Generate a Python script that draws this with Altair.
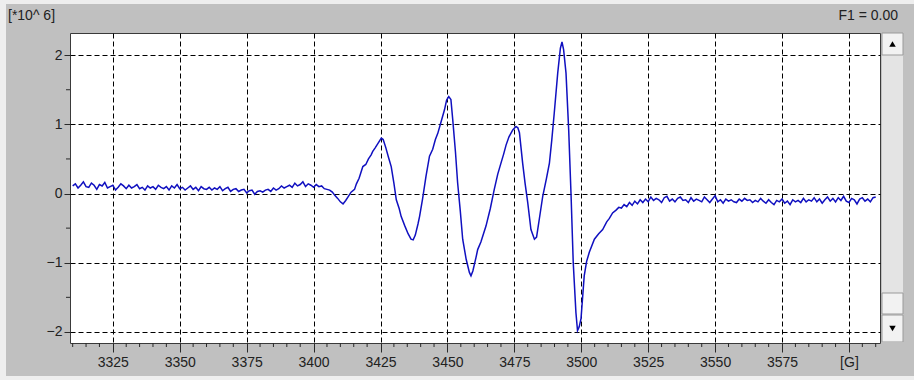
import altair as alt
import pandas as pd

# ---------------- data (signal in units of 10^6, field in Gauss) ----------------
left_start = 3310  # baseline before the resonance, 1 G spacing
left_vals = [0.11,
    0.14, 0.08, 0.12, 0.17, 0.10, 0.09, 0.15, 0.12, 0.06, 0.13,
    0.11, 0.16, 0.08, 0.10, 0.12, 0.05, 0.09, 0.14, 0.11, 0.07,
    0.12, 0.08, 0.10, 0.13, 0.07, 0.09, 0.05, 0.11, 0.08, 0.10,
    0.06, 0.12, 0.09, 0.07, 0.10, 0.05, 0.11, 0.08, 0.13, 0.07,
    0.09, 0.05, 0.08, 0.11, 0.06, 0.09, 0.04, 0.10, 0.07, 0.06,
    0.09, 0.05, 0.08, 0.06, 0.10, 0.04, 0.07, 0.09, 0.03, 0.06,
    0.07, 0.03, 0.05, 0.06, 0.01, 0.04, 0.05, -0.01, 0.03, 0.04,
    0.02, 0.05, 0.06, 0.03, 0.08, 0.05, 0.07, 0.11, 0.08, 0.10,
    0.12, 0.09, 0.15, 0.11, 0.13, 0.17, 0.10, 0.14, 0.12, 0.09,
    0.13, 0.10, 0.11, 0.07, 0.06,
    0.05, 0.02, -0.03, -0.07, -0.12, -0.15, -0.10]

peak_field = [3413, 3414, 3415.3, 3416, 3417, 3418.4, 3419.5, 3420.5, 3421.5, 3422.1,
              3423, 3424, 3425.3, 3426, 3427, 3428, 3429, 3430, 3430.9, 3432,
              3432.7, 3434, 3435.3, 3436.4, 3437.2, 3438, 3439, 3439.6, 3440.7, 3442,
              3443.3, 3444.5, 3445.5, 3446.4, 3447.5, 3448.9, 3449.7, 3450.5, 3451.3, 3452,
              3453, 3453.8, 3454.8, 3455.7, 3457, 3458.2, 3458.8, 3459.5, 3460.7, 3461.3,
              3462.5, 3464.4, 3466, 3467.5, 3468.8, 3470, 3471, 3471.9, 3473, 3474.4,
              3475.6, 3476.3, 3476.9, 3478.1, 3479, 3480, 3481.2, 3482.5, 3483.3, 3484.4,
              3485.6, 3487, 3488.1, 3489, 3489.9, 3491.2, 3492.2, 3492.8, 3493.4, 3494.3,
              3495.3, 3496.2, 3497, 3498, 3498.6, 3499.2, 3499.9, 3501.1, 3502, 3503,
              3504.9, 3506.5, 3508, 3509.5, 3510.5, 3511.7, 3513, 3514]
peak_vals = [-0.04, 0.02, 0.06, 0.14, 0.22, 0.39, 0.42, 0.50, 0.56, 0.61,
             0.66, 0.72, 0.80, 0.78, 0.66, 0.52, 0.39, 0.15, -0.09, -0.22,
             -0.33, -0.46, -0.58, -0.66, -0.67, -0.60, -0.44, -0.33, -0.08, 0.25,
             0.54, 0.64, 0.78, 0.87, 1.02, 1.21, 1.35, 1.40, 1.36, 1.06,
             0.60, 0.16, -0.25, -0.66, -0.95, -1.14, -1.19, -1.12, -0.92, -0.81,
             -0.70, -0.47, -0.22, 0.06, 0.28, 0.44, 0.57, 0.70, 0.82, 0.92,
             0.97, 0.95, 0.88, 0.44, 0.15, -0.13, -0.52, -0.66, -0.63, -0.35,
             -0.04, 0.22, 0.44, 0.78, 1.16, 1.74, 2.10, 2.19, 2.08, 1.74,
             0.92, -0.04, -1.00, -1.72, -1.98, -1.93, -1.81, -1.19, -0.98, -0.85,
             -0.66, -0.58, -0.52, -0.41, -0.36, -0.28, -0.24, -0.20]

right_start = 3515  # baseline after the resonance, 1 G spacing
right_vals = [
    -0.21, -0.16, -0.19, -0.13, -0.17, -0.11, -0.15, -0.09, -0.13, -0.08,
    -0.12, -0.05, -0.10, -0.07, -0.09, -0.13, -0.06, -0.04, -0.11, -0.08,
    -0.12, -0.07, -0.05, -0.10, -0.09, -0.13, -0.06, -0.11, -0.08, -0.10,
    -0.12, -0.05, -0.09, -0.13, -0.08, -0.03, -0.12, -0.09, -0.14, -0.08,
    -0.11, -0.09, -0.12, -0.13, -0.08, -0.11, -0.07, -0.10, -0.09, -0.13,
    -0.10, -0.12, -0.07, -0.11, -0.14, -0.09, -0.13, -0.16, -0.10, -0.12,
    -0.08, -0.14, -0.11, -0.16, -0.09, -0.12, -0.10, -0.13, -0.07, -0.12,
    -0.09, -0.11, -0.06, -0.12, -0.08, -0.14, -0.09, -0.05, -0.11, -0.07,
    -0.12, -0.06, -0.10, -0.04, -0.11, -0.13, -0.07, -0.09, -0.15, -0.08,
    -0.06, -0.11, -0.08, -0.12, -0.06, -0.05]

x_major = [3325, 3350, 3375, 3400, 3425, 3450, 3475, 3500, 3525, 3550, 3575, 3600]
x_minor = [g for g in range(3310, 3611, 5) if g % 25]
y_major = [-2, -1, 0, 1, 2]
y_minor = [-1.5, -0.5, 0.5, 1.5]
x_domain = [3309, 3611.6]
y_domain = [-2.16, 2.32]

unit_label = "[*10^ 6]"
f1_label = "F1 = 0.00"

# ---------------- build table ----------------
fields = ([left_start + i for i in range(len(left_vals))] + peak_field +
          [right_start + i for i in range(len(right_vals))])
values = left_vals + peak_vals + right_vals
df = pd.DataFrame({"G": fields, "v": values})

FONT = "Liberation Sans"
W, H = 810, 310

xscale = alt.Scale(domain=x_domain, nice=False, zero=False)
yscale = alt.Scale(domain=y_domain, nice=False, zero=False)
xaxis = alt.Axis(values=x_major, title=None, grid=True, gridColor="#000000",
                 gridDash=[5, 3], gridOpacity=1, gridWidth=1, domain=False,
                 tickSize=9, tickColor="#2a2a2a", tickWidth=1,
                 labelFont=FONT, labelFontSize=14, labelColor="#222222",
                 labelPadding=3, labelFlush=False,
                 labelExpr="datum.value == 3600 ? '[G]' : datum.value")
yaxis = alt.Axis(values=y_major, title=None, grid=True, gridColor="#000000",
                 gridDash=[5, 3], gridOpacity=1, gridWidth=1, domain=False,
                 tickSize=6, tickColor="#2a2a2a", tickWidth=1,
                 labelFont=FONT, labelFontSize=14, labelColor="#222222",
                 labelPadding=2, labelFlush=False)

X = alt.X("G:Q", scale=xscale, axis=xaxis)
Y = alt.Y("v:Q", scale=yscale, axis=yaxis)

line = alt.Chart(df).mark_line(color="#1010c0", strokeWidth=1.5).encode(x=X, y=Y)

xminor = alt.Chart(pd.DataFrame({"G": x_minor})).mark_rule(
    color="#2a2a2a", strokeWidth=1).encode(x=X, y=alt.value(H), y2=alt.value(H + 4))
yminor = alt.Chart(pd.DataFrame({"v": y_minor})).mark_rule(
    color="#2a2a2a", strokeWidth=1).encode(y=Y, x=alt.value(-4), x2=alt.value(0))

one = pd.DataFrame({"a": [0]})

def box(x1, x2, y1, y2, fill, stroke=None):
    kw = dict(fill=fill)
    if stroke:
        kw.update(stroke=stroke, strokeWidth=1)
    return alt.Chart(one).mark_rect(**kw).encode(
        x=alt.value(x1), x2=alt.value(x2), y=alt.value(y1), y2=alt.value(y2))

light = "#eeeeee"
strips = [
    box(-70, -64, -33, 347, light),
    box(-70, 844, -33, -29, light),
    box(-70, 844, 343, 347, light),
]
# scrollbar
sb = [
    box(812, 833, 0, 310, "#e4e4e4"),
    box(812, 833, 0, 22, "#f2f2f2", "#9a9a9a"),
    box(812, 833, 260, 281, "#f2f2f2", "#9a9a9a"),
    box(812, 833, 282, 309, "#f2f2f2", "#9a9a9a"),
    alt.Chart(one).mark_point(shape="triangle-up", filled=True, size=42,
                              color="#000000", opacity=1).encode(
        x=alt.value(822.5), y=alt.value(11)),
    alt.Chart(one).mark_point(shape="triangle-down", filled=True, size=42,
                              color="#000000", opacity=1).encode(
        x=alt.value(822.5), y=alt.value(295.5)),
]

t_unit = alt.Chart(pd.DataFrame({"t": [unit_label]})).mark_text(
    font=FONT, fontSize=14, color="#222222", align="left", baseline="middle").encode(
    text="t:N", x=alt.value(-62), y=alt.value(-17))
t_f1 = alt.Chart(pd.DataFrame({"t": [f1_label]})).mark_text(
    font=FONT, fontSize=14, color="#222222", align="right", baseline="middle").encode(
    text="t:N", x=alt.value(828), y=alt.value(-17))

chart = alt.layer(line, xminor, yminor, *strips, *sb, t_unit, t_f1).properties(
    width=W, height=H, autosize=alt.AutoSizeParams(type="none"),
    padding={"left": 70, "top": 33, "right": 34, "bottom": 37},
).configure(background="#c0c0c0").configure_view(
    fill="#ffffff", stroke="#3a3a3a", strokeWidth=1)

chart.save("out.html", embed_options={"renderer": "svg", "actions": False})
